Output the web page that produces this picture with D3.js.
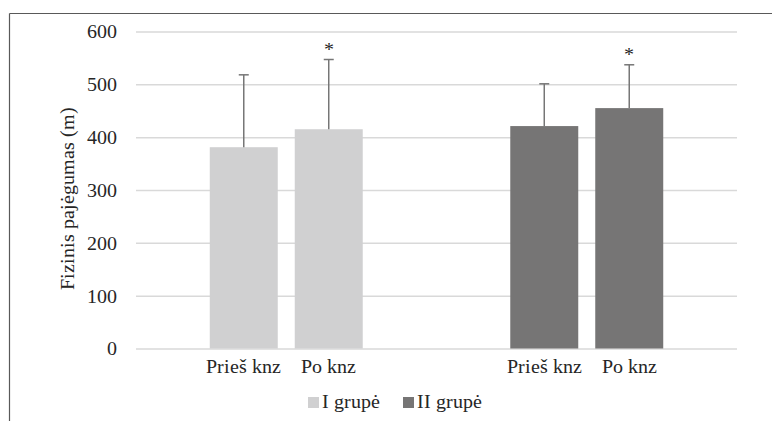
<!DOCTYPE html>
<html><head><meta charset="utf-8">
<script src="https://cdn.jsdelivr.net/npm/d3@7"></script>
<style>
@font-face{font-family:"RefSerif";src:local("Liberation Serif"),local("LiberationSerif"),local("LiberationSerif-Regular"),local("Tinos"),local("Times New Roman");}
svg text{font-family:"RefSerif","Liberation Serif",Tinos,"Times New Roman",serif !important;}
</style>
</head><body style="margin:0"><svg id="c" width="772" height="421" style="display:block;background:#fff"></svg>
<script>
const groups = ["I grupė", "II grupė"];
const phases = ["Prieš knz", "Po knz"];
const means = [[381, 415], [421, 455]];
const errs = [[137, 132], [80, 82]];
const stars = [[false, true], [false, true]];
const yTicks = [0, 100, 200, 300, 400, 500, 600];
const colors = ["#d0d0d1", "#767575"];

const FS = 20;
const svg = d3.select("#c");
const pL = 136, pR = 737, pT = 31.5, pB = 348.5;
const y = d3.scaleLinear().domain([0, 600]).range([pB, pT]);
const x0 = d3.scaleBand().domain(groups).range([pL, pR]);
const x1 = d3.scaleBand().domain(phases).range([0, x0.bandwidth()]).paddingInner(0.2).paddingOuter(0.868);

function txt(sel) {
  return sel.attr("font-size", FS).attr("fill", "#262626");
}

// frame (top and left, cropped)
svg.append("line").attr("x1", 9.5).attr("x2", 772).attr("y1", 13.5).attr("y2", 13.5).attr("stroke", "#595959").attr("stroke-width", 1.2);
svg.append("line").attr("x1", 9.5).attr("x2", 9.5).attr("y1", 13.5).attr("y2", 421).attr("stroke", "#595959").attr("stroke-width", 1.2);

// grid
const ax = d3.axisLeft(y).tickValues(yTicks).tickSize(-(pR - pL)).tickPadding(19);
const g = svg.append("g").attr("transform", `translate(${pL},0)`).call(ax);
g.attr("font-family", null).attr("font-size", FS);
g.select(".domain").remove();
g.selectAll(".tick line").attr("stroke", "#d9d9d9").attr("stroke-width", 1.5);
txt(g.selectAll(".tick text"));

// bars
const gg = svg.append("g").selectAll("g").data(groups).join("g")
  .attr("transform", d => `translate(${x0(d)},0)`);
gg.each(function(gname, gi) {
  const sel = d3.select(this);
  phases.forEach((p, pi) => {
    const v = means[gi][pi], e = errs[gi][pi];
    const cx = x1(p) + x1.bandwidth() / 2;
    sel.append("rect").attr("x", x1(p)).attr("width", x1.bandwidth())
      .attr("y", y(v)).attr("height", y(0) - y(v)).attr("fill", colors[gi]);
    sel.append("line").attr("x1", cx).attr("x2", cx).attr("y1", y(v)).attr("y2", y(v + e))
      .attr("stroke", "#767676").attr("stroke-width", 1.5);
    sel.append("line").attr("x1", cx - 5).attr("x2", cx + 5).attr("y1", y(v + e)).attr("y2", y(v + e))
      .attr("stroke", "#767676").attr("stroke-width", 1.5);
    if (stars[gi][pi]) {
      txt(sel.append("text").attr("x", cx).attr("y", y(v + e) - 4).attr("text-anchor", "middle")).text("*");
    }
    txt(sel.append("text").attr("x", cx).attr("y", 373).attr("text-anchor", "middle")).text(p);
  });
});

// y label
txt(svg.append("text").attr("transform", `translate(74,${(pT + pB) / 2 + 8}) rotate(-90)`)
  .attr("text-anchor", "middle")).text("Fizinis pajėgumas (m)");

// legend
const leg = svg.append("g");
const legX = [308, 403];
groups.forEach((gname, i) => {
  leg.append("rect").attr("x", legX[i]).attr("y", 397).attr("width", 11).attr("height", 11).attr("fill", colors[i]);
  txt(leg.append("text").attr("x", legX[i] + 14).attr("y", 407.5)).text(gname);
});
</script></body></html>
